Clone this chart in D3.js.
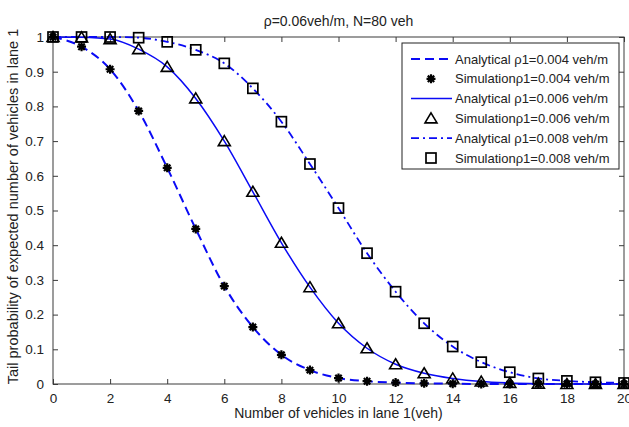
<!DOCTYPE html>
<html><head><meta charset="utf-8">
<script src="https://cdn.jsdelivr.net/npm/d3@7"></script>
<style>body{margin:0;background:#fff}svg{display:block;font-family:"Liberation Sans",Arial,sans-serif}</style>
</head><body>
<svg id="c" width="629" height="427"></svg>
<script>
const xVals = [0,1,2,3,4,5,6,7,8,9,10,11,12,13,14,15,16,17,18,19,20];
const anal004 = [1,0.972,0.907,0.787,0.623,0.447,0.282,0.164,0.084,0.040,0.017,0.008,0.004,0.002,0.001,0,0,0,0,0,0];
const sim004  = [1,0.972,0.907,0.787,0.623,0.447,0.282,0.164,0.084,0.040,0.017,0.008,0.004,0.002,0.001,0,0,0,0,0,0];
const anal006 = [1,0.999,0.994,0.965,0.914,0.823,0.700,0.554,0.407,0.279,0.175,0.103,0.057,0.031,0.016,0.007,0.003,0.001,0,0,0];
const sim006  = [1,0.999,0.994,0.965,0.914,0.823,0.700,0.554,0.407,0.279,0.175,0.103,0.057,0.031,0.016,0.007,0.003,0.001,0,0,0];
const anal008 = [1,1,1,0.998,0.986,0.963,0.924,0.852,0.756,0.634,0.507,0.377,0.266,0.175,0.108,0.063,0.034,0.016,0.009,0.005,0.003];
const sim008  = [1,1,1,0.998,0.986,0.963,0.924,0.852,0.756,0.634,0.507,0.377,0.266,0.175,0.108,0.063,0.034,0.016,0.009,0.005,0.003];
const xTicks = [0,2,4,6,8,10,12,14,16,18,20];
const yTicks = [0,0.1,0.2,0.3,0.4,0.5,0.6,0.7,0.8,0.9,1];
const yTickLabels = ["0","0.1","0.2","0.3","0.4","0.5","0.6","0.7","0.8","0.9","1"];
const legendLabels = ["Analytical \u03c11=0.004 veh/m","Simulation\u03c11=0.004 veh/m","Analytical \u03c11=0.006 veh/m","Simulation\u03c11=0.006 veh/m","Analytical \u03c11=0.008 veh/m","Simulation\u03c11=0.008 veh/m"];
const titleText = "\u03c1=0.06veh/m, N=80 veh";
const xLabel = "Number of vehicles in lane 1(veh)";
const yLabel = "Tail probability of expected number of vehicles in lane 1";

const L=53,R=624,T=37,B=384;
const svg=d3.select("#c");
const x=d3.scaleLinear().domain([0,20]).range([L,R]);
const y=d3.scaleLinear().domain([0,1]).range([B,T]);
const axisCol="#3a3a3a";

svg.append("rect").attr("x",L).attr("y",T).attr("width",R-L).attr("height",B-T)
  .attr("fill","none").attr("stroke",axisCol).attr("stroke-width",1);

const gx=svg.append("g").attr("transform",`translate(0,${B})`)
  .call(d3.axisBottom(x).tickValues(xTicks).tickSize(-5).tickPadding(9).tickFormat(d3.format("d")));
const gxt=svg.append("g").attr("transform",`translate(0,${T})`)
  .call(d3.axisTop(x).tickValues(xTicks).tickSize(-5).tickFormat(""));
const gy=svg.append("g").attr("transform",`translate(${L},0)`)
  .call(d3.axisLeft(y).tickValues(yTicks).tickSize(-5).tickPadding(9).tickFormat((d,i)=>yTickLabels[i]));
const gyr=svg.append("g").attr("transform",`translate(${R},0)`)
  .call(d3.axisRight(y).tickValues(yTicks).tickSize(-5).tickFormat(""));
[gx,gxt,gy,gyr].forEach(g=>{
  g.select(".domain").remove();
  g.selectAll(".tick line").attr("stroke",axisCol);
  g.selectAll(".tick text").attr("fill","#222").style("font-size","13.5px").style("font-family","'Liberation Sans',Arial,sans-serif");
});

const line=d3.line().x((d,i)=>x(xVals[i])).y(d=>y(d)).curve(d3.curveMonotoneX);
const blue="#0a0af5";
const styles=[
  {data:anal004, dash:"9,5", w:2},
  {data:anal006, dash:null, w:1.5},
  {data:anal008, dash:"8,4,2,4", w:1.8}
];
styles.forEach(s=>{
  const p=svg.append("path").datum(s.data).attr("d",line).attr("fill","none")
    .attr("stroke",blue).attr("stroke-width",s.w);
  if(s.dash) p.attr("stroke-dasharray",s.dash);
});

function star(g,cx,cy){
  g.append("path").attr("d",`M${cx-4.5},${cy}L${cx+4.5},${cy}M${cx},${cy-4.5}L${cx},${cy+4.5}M${cx-3.2},${cy-3.2}L${cx+3.2},${cy+3.2}M${cx-3.2},${cy+3.2}L${cx+3.2},${cy-3.2}`)
   .attr("stroke","#000").attr("stroke-width",2.2).attr("fill","none");
  g.append("circle").attr("cx",cx).attr("cy",cy).attr("r",2.5).attr("fill","#000");
}
function tri(g,cx,cy){
  g.append("path").attr("d",`M${cx},${cy-5.5}L${cx+6},${cy+4.5}L${cx-6},${cy+4.5}Z`)
   .attr("stroke","#000").attr("stroke-width",1.6).attr("fill","none");
}
function sq(g,cx,cy){
  g.append("rect").attr("x",cx-5).attr("y",cy-5).attr("width",10).attr("height",10)
   .attr("stroke","#000").attr("stroke-width",1.7).attr("fill","none");
}
const mg=svg.append("g");
sim004.forEach((v,i)=>star(mg,x(xVals[i]),y(v)));
sim006.forEach((v,i)=>tri(mg,x(xVals[i]),y(v)));
sim008.forEach((v,i)=>sq(mg,x(xVals[i]),y(v)));

svg.append("text").attr("x",(L+R)/2).attr("y",26).attr("text-anchor","middle")
  .style("font-size","14px").attr("fill","#222").text(titleText);
svg.append("text").attr("x",(L+R)/2).attr("y",418).attr("text-anchor","middle")
  .style("font-size","14px").attr("fill","#222").text(xLabel);
svg.append("text").attr("transform",`translate(18,${(T+B)/2 - 4}) rotate(-90)`).attr("text-anchor","middle")
  .style("font-size","14.5px").attr("fill","#222").text(yLabel);

const lg=svg.append("g");
lg.append("rect").attr("x",402).attr("y",43).attr("width",217).attr("height",126)
  .attr("fill","#fff").attr("stroke","#222").attr("stroke-width",1);
const rowY=i=>59+i*19.8;
legendLabels.forEach((t,i)=>{
  const yy=rowY(i);
  if(i%2===0){
    const s=styles[i/2];
    const p=lg.append("line").attr("x1",411).attr("x2",452).attr("y1",yy).attr("y2",yy)
      .attr("stroke",blue).attr("stroke-width",s.w);
    if(s.dash) p.attr("stroke-dasharray",s.dash);
  } else {
    const k=(i-1)/2;
    if(k===0) star(lg,431,yy); else if(k===1) tri(lg,431,yy); else sq(lg,431,yy);
  }
  lg.append("text").attr("x",455).attr("y",yy).attr("dy","0.35em")
    .style("font-size","13px").attr("fill","#222").text(t);
});
</script>
</body></html>
